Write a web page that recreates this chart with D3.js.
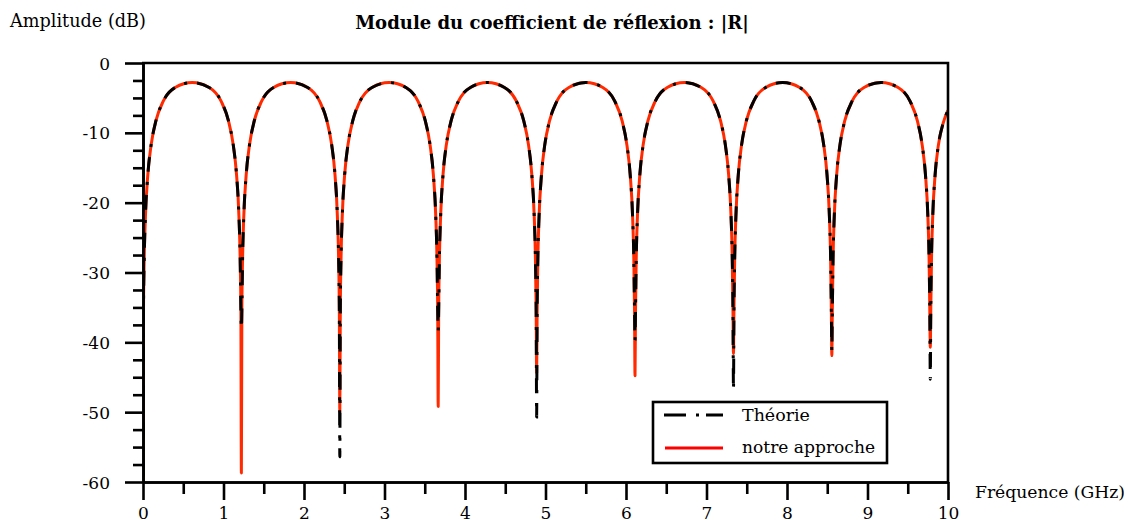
<!DOCTYPE html>
<html><head><meta charset="utf-8">
<script src="https://cdn.jsdelivr.net/npm/d3@7"></script>
<style>
body{margin:0;background:#fff}
svg text{font-family:"DejaVu Serif",serif;fill:#000}
</style>
</head><body>
<svg id="chart" width="1129" height="520"></svg>
<script>
// ---- data (frequency in GHz, amplitude in dB) ----
const frequences = [
  0, 0.006, 0.015, 0.03, 0.06, 0.1, 0.16, 0.25, 0.4, 0.611,
  0.822, 0.972, 1.062, 1.122, 1.162, 1.192, 1.207, 1.216, 1.222, 1.228, 1.237, 1.252, 1.282, 1.322, 1.382, 1.472, 1.622, 1.834,
  2.045, 2.195, 2.285, 2.345, 2.385, 2.415, 2.430, 2.439, 2.445, 2.451, 2.460, 2.475, 2.505, 2.545, 2.605, 2.695, 2.845, 3.056,
  3.267, 3.417, 3.507, 3.567, 3.607, 3.637, 3.652, 3.661, 3.667, 3.673, 3.682, 3.697, 3.727, 3.767, 3.827, 3.917, 4.067, 4.279,
  4.490, 4.640, 4.730, 4.790, 4.830, 4.860, 4.875, 4.884, 4.890, 4.896, 4.905, 4.920, 4.950, 4.990, 5.050, 5.140, 5.290, 5.501,
  5.712, 5.862, 5.952, 6.012, 6.052, 6.082, 6.097, 6.106, 6.112, 6.118, 6.127, 6.142, 6.172, 6.212, 6.272, 6.362, 6.512, 6.724,
  6.935, 7.085, 7.175, 7.235, 7.275, 7.305, 7.320, 7.329, 7.335, 7.341, 7.350, 7.365, 7.395, 7.435, 7.495, 7.585, 7.735, 7.946,
  8.157, 8.307, 8.397, 8.457, 8.497, 8.527, 8.542, 8.551, 8.557, 8.563, 8.572, 8.587, 8.617, 8.657, 8.717, 8.807, 8.957, 9.169,
  9.380, 9.530, 9.620, 9.680, 9.720, 9.750, 9.765, 9.774, 9.780, 9.786, 9.795, 9.810, 9.840, 9.880, 9.940, 10.0
];
const theorie = [
  -70, -35.5, -28, -22, -16, -11.8, -8.3, -5.5, -3.5, -2.8,
  -3.5, -5.5, -8.3, -11.8, -16, -22, -28, -35.5, -38.0, -35.5, -28, -22, -16, -11.8, -8.3, -5.5, -3.5, -2.8,
  -3.5, -5.5, -8.3, -11.8, -16, -22, -28, -35.5, -56.4, -35.5, -28, -22, -16, -11.8, -8.3, -5.5, -3.5, -2.8,
  -3.5, -5.5, -8.3, -11.8, -16, -22, -28, -35.5, -38.3, -35.5, -28, -22, -16, -11.8, -8.3, -5.5, -3.5, -2.8,
  -3.5, -5.5, -8.3, -11.8, -16, -22, -28, -35.5, -50.7, -35.5, -28, -22, -16, -11.8, -8.3, -5.5, -3.5, -2.8,
  -3.5, -5.5, -8.3, -11.8, -16, -22, -28, -35.5, -39.7, -35.5, -28, -22, -16, -11.8, -8.3, -5.5, -3.5, -2.8,
  -3.5, -5.5, -8.3, -11.8, -16, -22, -28, -35.5, -46.8, -35.5, -28, -22, -16, -11.8, -8.3, -5.5, -3.5, -2.8,
  -3.5, -5.5, -8.3, -11.8, -16, -22, -28, -35.5, -41.2, -35.5, -28, -22, -16, -11.8, -8.3, -5.5, -3.5, -2.8,
  -3.5, -5.5, -8.3, -11.8, -16, -22, -28, -35.5, -45.3, -35.5, -28, -22, -16, -11.8, -8.6, -6.8
];
const approche = [
  -70, -35.5, -28, -22, -16, -11.8, -8.3, -5.5, -3.5, -2.8,
  -3.5, -5.5, -8.3, -11.8, -16, -22, -28, -35.5, -58.7, -35.5, -28, -22, -16, -11.8, -8.3, -5.5, -3.5, -2.8,
  -3.5, -5.5, -8.3, -11.8, -16, -22, -28, -35.5, -50.0, -35.5, -28, -22, -16, -11.8, -8.3, -5.5, -3.5, -2.8,
  -3.5, -5.5, -8.3, -11.8, -16, -22, -28, -35.5, -49.2, -35.5, -28, -22, -16, -11.8, -8.3, -5.5, -3.5, -2.8,
  -3.5, -5.5, -8.3, -11.8, -16, -22, -28, -35.5, -44.4, -35.5, -28, -22, -16, -11.8, -8.3, -5.5, -3.5, -2.8,
  -3.5, -5.5, -8.3, -11.8, -16, -22, -28, -35.5, -44.8, -35.5, -28, -22, -16, -11.8, -8.3, -5.5, -3.5, -2.8,
  -3.5, -5.5, -8.3, -11.8, -16, -22, -28, -35.5, -41.6, -35.5, -28, -22, -16, -11.8, -8.3, -5.5, -3.5, -2.8,
  -3.5, -5.5, -8.3, -11.8, -16, -22, -28, -35.5, -41.9, -35.5, -28, -22, -16, -11.8, -8.3, -5.5, -3.5, -2.8,
  -3.5, -5.5, -8.3, -11.8, -16, -22, -28, -35.5, -40.7, -35.5, -28, -22, -16, -11.8, -8.6, -6.8
];
const xTicks = [0, 1, 2, 3, 4, 5, 6, 7, 8, 9, 10];
const xMinorTicks = [0.5, 1.5, 2.5, 3.5, 4.5, 5.5, 6.5, 7.5, 8.5, 9.5];
const yTicks = [0, -10, -20, -30, -40, -50, -60];
const yTickLabels = ["0", "-10", "-20", "-30", "-40", "-50", "-60"];
const yMinorTicks = [-2.5, -5, -7.5, -12.5, -15, -17.5, -22.5, -25, -27.5, -32.5, -35, -37.5,
                     -42.5, -45, -47.5, -52.5, -55, -57.5];
const seriesNames = ["Théorie", "notre approche"];
const titleText = "Module du coefficient de réflexion : |R|";
const yLabel = "Amplitude (dB)";
const xLabel = "Fréquence (GHz)";

// ---- layout ----
const svg = d3.select("#chart");
const L = 143, R = 948, T = 63, B = 482;
const x = d3.scaleLinear().domain([0, 10]).range([L, R]);
const y = d3.scaleLinear().domain([-60, 0]).range([B, T]);
const SW = 2.6;
const DASH = "15,10,3,10";

svg.append("defs").append("clipPath").attr("id", "plotclip")
  .append("rect").attr("x", L).attr("y", T).attr("width", R - L).attr("height", B - T);

function fitText(sel, target) {
  const w = sel.node().getComputedTextLength();
  const fs = parseFloat(sel.attr("font-size"));
  sel.attr("font-size", (fs * target / w).toFixed(2));
  return sel;
}

// curves
const pts = (vals) => frequences.map((f, i) => [f, vals[i]]);
const line = d3.line().x(d => x(d[0])).y(d => y(d[1])).curve(d3.curveMonotoneX);
const plot = svg.append("g").attr("clip-path", "url(#plotclip)");
plot.append("path").datum(pts(approche)).attr("d", line)
  .attr("fill", "none").attr("stroke", "#ff2a00").attr("stroke-width", 3)
  .attr("stroke-linejoin", "round");
plot.append("path").datum(pts(theorie)).attr("d", line)
  .attr("fill", "none").attr("stroke", "#000").attr("stroke-width", 3)
  .attr("stroke-dasharray", DASH);

// axes
function styleAxis(g) {
  g.selectAll("path,line").attr("stroke", "#000").attr("stroke-width", SW);
  g.selectAll("text").attr("font-family", "DejaVu Serif").attr("font-size", 17).attr("fill", "#000");
}
svg.append("g").attr("transform", `translate(${L},0)`)
  .call(d3.axisLeft(y).tickValues(yMinorTicks).tickSize(10).tickFormat("").tickSizeOuter(0))
  .call(styleAxis);
svg.append("g").attr("transform", `translate(${L},0)`)
  .call(d3.axisLeft(y).tickValues(yTicks).tickSize(18).tickPadding(15).tickSizeOuter(0)
    .tickFormat((d, i) => yTickLabels[i]))
  .call(styleAxis)
  .call(g => g.selectAll("text").attr("dy", "0.36em"));
svg.append("g").attr("transform", `translate(0,${B})`)
  .call(d3.axisBottom(x).tickValues(xMinorTicks).tickSize(12).tickFormat("").tickSizeOuter(0))
  .call(styleAxis);
svg.append("g").attr("transform", `translate(0,${B})`)
  .call(d3.axisBottom(x).tickValues(xTicks).tickSize(18).tickPadding(7).tickSizeOuter(0).tickFormat(d => String(d)))
  .call(styleAxis);
// frame top / right
svg.append("path").attr("d", `M${L - 1},${T}H${R}V${B + 1}`)
  .attr("fill", "none").attr("stroke", "#000").attr("stroke-width", SW);

// title & axis labels
fitText(svg.append("text").attr("x", 552).attr("y", 29).attr("text-anchor", "middle")
  .attr("font-weight", "bold").attr("font-size", 16).text(titleText), 394);
fitText(svg.append("text").attr("x", 10).attr("y", 27).attr("font-size", 17).text(yLabel), 136);
fitText(svg.append("text").attr("x", 975).attr("y", 498).attr("font-size", 17).text(xLabel), 150);

// legend
const lg = svg.append("g");
lg.append("rect").attr("x", 653).attr("y", 402).attr("width", 234).attr("height", 61)
  .attr("fill", "#fff").attr("stroke", "#000").attr("stroke-width", SW);
lg.append("line").attr("x1", 664).attr("x2", 723).attr("y1", 415).attr("y2", 415)
  .attr("stroke", "#000").attr("stroke-width", 3).attr("stroke-dasharray", "22,10,3,7");
lg.append("line").attr("x1", 665).attr("x2", 723).attr("y1", 448).attr("y2", 448)
  .attr("stroke", "#ff0000").attr("stroke-width", 3);
fitText(lg.append("text").attr("x", 742).attr("y", 421).attr("font-size", 17).text(seriesNames[0]), 68);
fitText(lg.append("text").attr("x", 742).attr("y", 453).attr("font-size", 17).text(seriesNames[1]), 133);
</script>
</body></html>
